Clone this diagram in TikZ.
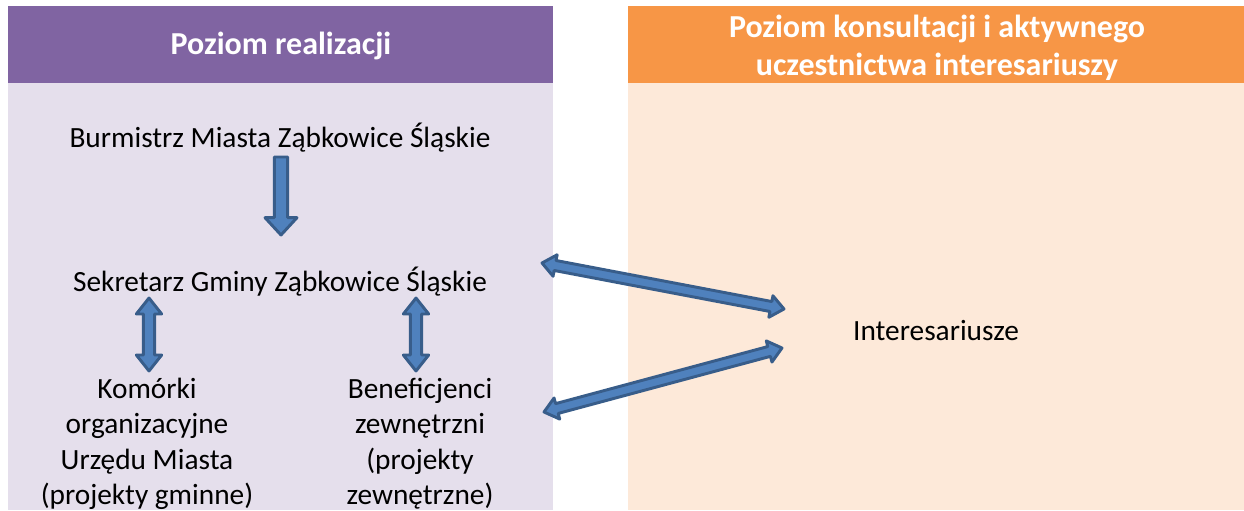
\documentclass[tikz,border=0pt]{standalone}
\usepackage{fontspec}
\setmainfont{Carlito}
\usetikzlibrary{calc}
\definecolor{hdrpurple}{HTML}{8064A2}
\definecolor{bodypurple}{HTML}{E5DFEC}
\definecolor{hdrorange}{HTML}{F79646}
\definecolor{bodyorange}{HTML}{FDE9D9}
\definecolor{arrfill}{HTML}{4F81BD}
\definecolor{arrline}{HTML}{385D8A}
\tikzset{
  fatarrow/.style={fill=arrfill,draw=arrline,line width=2.2pt,line join=round},
  bodytext/.style={inner sep=0pt,font=\fontsize{22pt}{27pt}\selectfont,align=center,text=black},
  hdrtext/.style={inner sep=0pt,font=\bfseries\fontsize{24pt}{28pt}\selectfont,align=center,text=white},
}
% single arrow: from, to, shaft half, head half, head length
\newcommand{\mysinglearrow}[5]{%
  \coordinate (hB) at ($(#2)!#5!(#1)$);
  \filldraw[fatarrow] ($(#1)!#3!90:(#2)$) -- ($(hB)!#3!90:(#2)$) -- ($(hB)!#4!90:(#2)$) -- (#2)
    -- ($(hB)!#4!-90:(#2)$) -- ($(hB)!#3!-90:(#2)$) -- ($(#1)!#3!-90:(#2)$) -- cycle;
}
% double arrow: from, to, shaft half, head half, head length
\newcommand{\mydoublearrow}[5]{%
  \coordinate (hA) at ($(#1)!#5!(#2)$);
  \coordinate (hB) at ($(#2)!#5!(#1)$);
  \filldraw[fatarrow] (#1) -- ($(hA)!#4!90:(#2)$) -- ($(hA)!#3!90:(#2)$) -- ($(hB)!#3!90:(#2)$)
    -- ($(hB)!#4!90:(#2)$) -- (#2) -- ($(hB)!#4!-90:(#2)$) -- ($(hB)!#3!-90:(#2)$)
    -- ($(hA)!#3!-90:(#2)$) -- ($(hA)!#4!-90:(#2)$) -- cycle;
}
\begin{document}
\begin{tikzpicture}[x=0.75pt,y=-0.75pt]
\useasboundingbox (0,0) rectangle (1244,510);
\clip (0,0) rectangle (1244,510);
% panels
\fill[bodypurple] (8,83) rectangle (553,510);
\fill[hdrpurple] (8,6) rectangle (553,83);
\fill[bodyorange] (628,83) rectangle (1244,510);
\fill[hdrorange] (628,6) rectangle (1244,83);
% headers
\node[hdrtext,anchor=base] (hleft) at (281,55) {Poziom realizacji};
\node[hdrtext,anchor=base] (hright1) at (937,38) {Poziom konsultacji i aktywnego};
\node[hdrtext,anchor=base] (hright2) at (937,75) {uczestnictwa interesariuszy};
% texts
\node[bodytext,anchor=base] (burm) at (280,147) {Burmistrz Miasta Ząbkowice Śląskie};
\node[bodytext,anchor=base] (sekr) at (280,291) {Sekretarz Gminy Ząbkowice Śląskie};
\node[bodytext,anchor=base] (kom1) at (147,398) {Komórki};
\node[bodytext,anchor=base] (kom2) at (147,433) {organizacyjne};
\node[bodytext,anchor=base] (kom3) at (147,469) {Urzędu Miasta};
\node[bodytext,anchor=base] (kom4) at (147,504) {(projekty gminne)};
\node[bodytext,anchor=base] (ben1) at (420,398) {Beneficjenci};
\node[bodytext,anchor=base] (ben2) at (420,433) {zewnętrzni};
\node[bodytext,anchor=base] (ben3) at (420,469) {(projekty};
\node[bodytext,anchor=base] (ben4) at (420,504) {zewnętrzne)};
\node[bodytext,anchor=base] (inter) at (936,340) {Interesariusze};
% arrow end points
\coordinate (a1s) at (281,157);
\coordinate (a1e) at (281,235);
\coordinate (a2s) at (149,298);
\coordinate (a2e) at (149,371);
\coordinate (a3s) at (416,298);
\coordinate (a3e) at (416,371);
\coordinate (a4s) at (542,263);
\coordinate (a4e) at (784,309);
\coordinate (a5s) at (544,412);
\coordinate (a5e) at (782,348);
% arrows
\mysinglearrow{a1s}{a1e}{5pt}{12pt}{13pt}
\mydoublearrow{a2s}{a2e}{4.2pt}{9.5pt}{12pt}
\mydoublearrow{a3s}{a3e}{4.2pt}{9.5pt}{12pt}
\mydoublearrow{a4s}{a4e}{3.8pt}{8.2pt}{10pt}
\mydoublearrow{a5s}{a5e}{3.8pt}{8.2pt}{10pt}
\end{tikzpicture}
\end{document}
